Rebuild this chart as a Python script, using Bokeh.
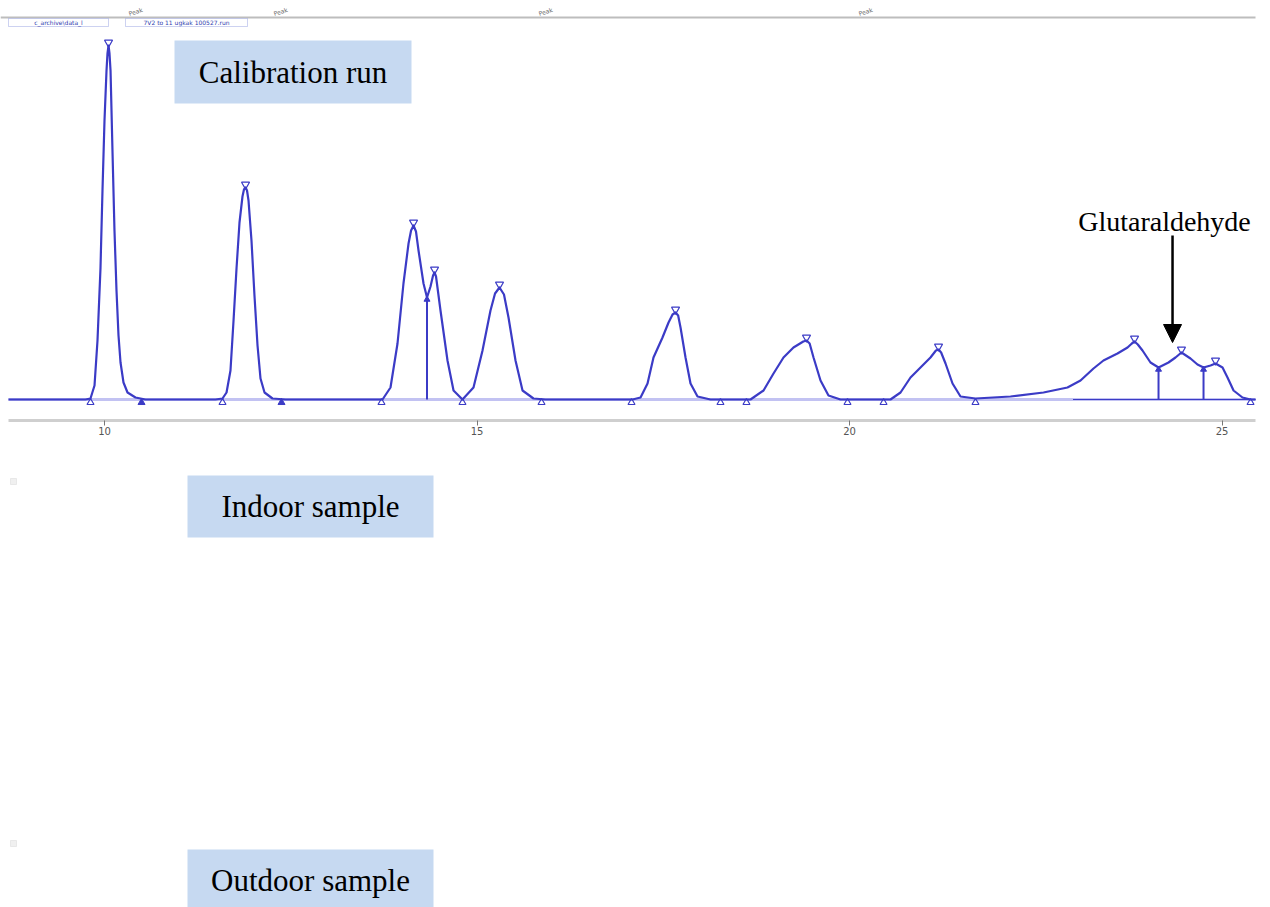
from bokeh.plotting import figure
from bokeh.models import (Range1d, LinearAxis, FixedTicker, Label, BoxAnnotation,
                          Arrow, NormalHead)
from bokeh.embed import file_html
from bokeh.resources import INLINE

# ---------------- data ----------------
time_min = [8.711, 9.745, 9.812, 9.866, 9.906, 9.946, 9.973, 10.000, 10.027, 10.040, 10.054,
            10.067, 10.081, 10.107, 10.134, 10.161, 10.188, 10.215, 10.255, 10.309, 10.416, 10.550,
            11.490, 11.584, 11.638, 11.691, 11.732, 11.772, 11.812, 11.852, 11.872, 11.893,
            11.913, 11.933, 11.973, 12.013, 12.054, 12.094, 12.148, 12.255, 12.430,
            13.638, 13.732, 13.839, 13.933, 14.013, 14.081, 14.115, 14.148, 14.181, 14.215,
            14.282, 14.329, 14.376, 14.410, 14.430, 14.450, 14.510, 14.604, 14.685, 14.805,
            14.953, 15.074, 15.181, 15.242, 15.302, 15.362, 15.423, 15.517, 15.611, 15.758, 15.919,
            17.087, 17.195, 17.289, 17.369, 17.490, 17.571, 17.625, 17.665, 17.700, 17.732,
            17.799, 17.866, 17.960, 18.134, 18.671, 18.846, 18.980, 19.114, 19.248, 19.380,
            19.423, 19.465, 19.517, 19.611, 19.718, 19.879, 20.550, 20.685, 20.819, 20.953,
            21.087, 21.160, 21.195, 21.230, 21.289, 21.383, 21.490, 21.691, 22.161, 22.604,
            22.926, 23.101, 23.275, 23.409, 23.597, 23.732, 23.790, 23.826, 23.870, 23.933,
            24.040, 24.148, 24.282, 24.376, 24.456, 24.577, 24.671, 24.752, 24.846, 24.913,
            25.007, 25.074, 25.155, 25.275, 25.383, 25.450]
signal = [0, 0, 1, 14, 59, 131, 209, 279, 329, 346, 354,
          346, 329, 249, 169, 109, 64, 37, 17, 7, 2, 0,
          0, 1, 7, 29, 79, 131, 177, 203, 210, 212,
          209, 199, 159, 104, 54, 21, 7, 1, 0,
          0, 0, 12, 56, 116, 156, 169, 174, 168, 149,
          116, 102, 113, 124, 127, 123, 89, 39, 9, 0,
          12, 49, 89, 106, 112, 105, 82, 39, 9, 1, 0,
          0, 2, 16, 42, 62, 77, 85, 87, 84, 72,
          42, 16, 3, 0, 0, 9, 26, 42, 52, 58,
          59, 56, 42, 19, 4, 0, 0, 7, 22, 32,
          42, 49, 50, 47, 36, 16, 3, 1, 3, 7,
          12, 19, 31, 39, 46, 52, 56, 58, 55, 49,
          37, 32, 37, 42, 47, 41, 35, 32, 34, 36,
          32, 22, 9, 2, 0, 0]

apex_time = [10.054, 11.893, 14.148, 14.430, 15.302, 17.665, 19.423, 21.195, 23.826, 24.456, 24.913]
apex_signal = [354, 212, 174, 127, 112, 87, 59, 50, 58, 47, 36]

base_time = [9.812, 11.584, 13.718, 14.805, 15.866, 17.074, 18.268, 18.617, 19.973,
             20.457, 21.691, 25.383]
base_time_filled = [10.497, 12.376]

drop_time = [14.329, 24.148, 24.752]
drop_signal = [102, 32, 32]

run_start, run_end = 8.711, 25.450
x_ticks = [10, 15, 20, 25]

glut_time = 24.336
glut_signal = 47

panel_titles = ["Calibration run", "Indoor sample", "Outdoor sample"]
header_texts = ["c_archive\\data_l", "7V2 to 11 ugkak 100527.run"]
compound_label = "Glutaraldehyde"

# ---------------- figure ----------------
W, H = 1270, 907
TRACE = "#3b3bc6"
p = figure(width=W, height=H, x_range=Range1d(8.604, 25.651), y_range=Range1d(-508, 399),
           toolbar_location=None, output_backend="svg", min_border=0,
           x_axis_location=None, y_axis_location=None, outline_line_color=None,
           background_fill_color="white", border_fill_color="white")
p.xgrid.visible = False
p.ygrid.visible = False

# baseline of the run
p.line([run_start, run_end], [0, 0], line_color="#c2c2f2", line_width=3)
p.line([23.0, run_end], [0, 0], line_color=TRACE, line_width=1.2)

# drop lines
p.segment(x0=drop_time, y0=[0] * len(drop_time), x1=drop_time, y1=drop_signal,
          line_color=TRACE, line_width=2)

# chromatogram trace
p.line(time_min, signal, line_color=TRACE, line_width=2.2, line_join="round")

# peak / baseline markers
p.scatter(apex_time, [s + 3 for s in apex_signal], marker="inverted_triangle", size=8,
          fill_color=None, line_color=TRACE, line_width=1.2)
p.scatter(base_time, [-3] * len(base_time), marker="triangle", size=7,
          fill_color=None, line_color=TRACE, line_width=1.2)
p.scatter(base_time_filled, [-3] * len(base_time_filled), marker="triangle", size=7,
          fill_color=TRACE, line_color=TRACE)
p.scatter(drop_time, [d - 2 for d in drop_signal], marker="triangle", size=6,
          fill_color=TRACE, line_color=TRACE)

# time axis
ax = LinearAxis(fixed_location=-21, ticker=FixedTicker(ticks=x_ticks),
                bounds=(run_start, run_end))
ax.axis_line_color = "#cfcfcf"
ax.axis_line_width = 3
ax.major_tick_line_color = "#777777"
ax.major_tick_in = 0
ax.major_tick_out = 5
ax.minor_tick_line_color = None
ax.major_label_text_align = "left"
ax.major_label_standoff = 1
ax.major_label_text_font = "DejaVu Sans"
ax.major_label_text_font_size = "10px"
ax.major_label_text_color = "#555555"
p.add_layout(ax, "below")

# header strip
p.add_layout(BoxAnnotation(left=0, right=1255, top=H - 16, bottom=H - 18,
                           left_units="screen", right_units="screen",
                           top_units="screen", bottom_units="screen",
                           fill_color="#bdbdbd", fill_alpha=1, line_color=None))
for (l, r), txt in zip([(8, 108), (125, 247)], header_texts):
    p.add_layout(BoxAnnotation(left=l, right=r, top=H - 18, bottom=H - 26,
                               left_units="screen", right_units="screen",
                               top_units="screen", bottom_units="screen",
                               fill_color="white", fill_alpha=1, line_color="#5a6ad0",
                               line_width=1))
    p.add_layout(Label(x=(l + r) / 2, y=H - 22, x_units="screen", y_units="screen",
                       text=txt, text_font="DejaVu Sans", text_font_size="6px",
                       text_color="#3040b0", text_align="center", text_baseline="middle"))
for xs in [135, 280, 545, 865]:
    p.add_layout(Label(x=xs, y=H - 11, x_units="screen", y_units="screen",
                       text="Peak", text_font="DejaVu Sans", text_font_size="6px",
                       text_color="#666666", text_align="center", text_baseline="middle",
                       angle=0.3))

# panel title boxes
title_boxes = [(174, 411, 40, 103), (187, 433, 475, 537), (187, 433, 849, 910)]
title_text_y = [72, 506, 880]
for (l, r, t, b), ty, txt in zip(title_boxes, title_text_y, panel_titles):
    p.add_layout(BoxAnnotation(left=l, right=r, top=H - t, bottom=H - b,
                               left_units="screen", right_units="screen",
                               top_units="screen", bottom_units="screen",
                               fill_color="#c6d9f1", fill_alpha=1, line_color=None))
    p.add_layout(Label(x=(l + r) / 2, y=H - ty, x_units="screen", y_units="screen",
                       text=txt, text_font="Liberation Serif", text_font_size="31px",
                       text_color="black", text_align="center", text_baseline="middle"))

# small placeholder marks of the empty panels
for ty in [481, 843]:
    p.add_layout(BoxAnnotation(left=10, right=16, top=H - ty + 3, bottom=H - ty - 3,
                               left_units="screen", right_units="screen",
                               top_units="screen", bottom_units="screen",
                               fill_color="#f0f0f0", fill_alpha=1, line_color="#c8c8c8",
                               line_width=1))

# compound annotation
p.add_layout(Label(x=1164, y=H - 221, x_units="screen", y_units="screen",
                   text=compound_label, text_font="Liberation Serif", text_font_size="28px",
                   text_color="black", text_align="center", text_baseline="middle"))
p.add_layout(Arrow(end=NormalHead(size=18, fill_color="black", line_color="black"),
                   x_start=glut_time, y_start=164, x_end=glut_time, y_end=glut_signal + 10,
                   line_color="black", line_width=2.5))

open("out.html", "w").write(file_html(p, INLINE))
